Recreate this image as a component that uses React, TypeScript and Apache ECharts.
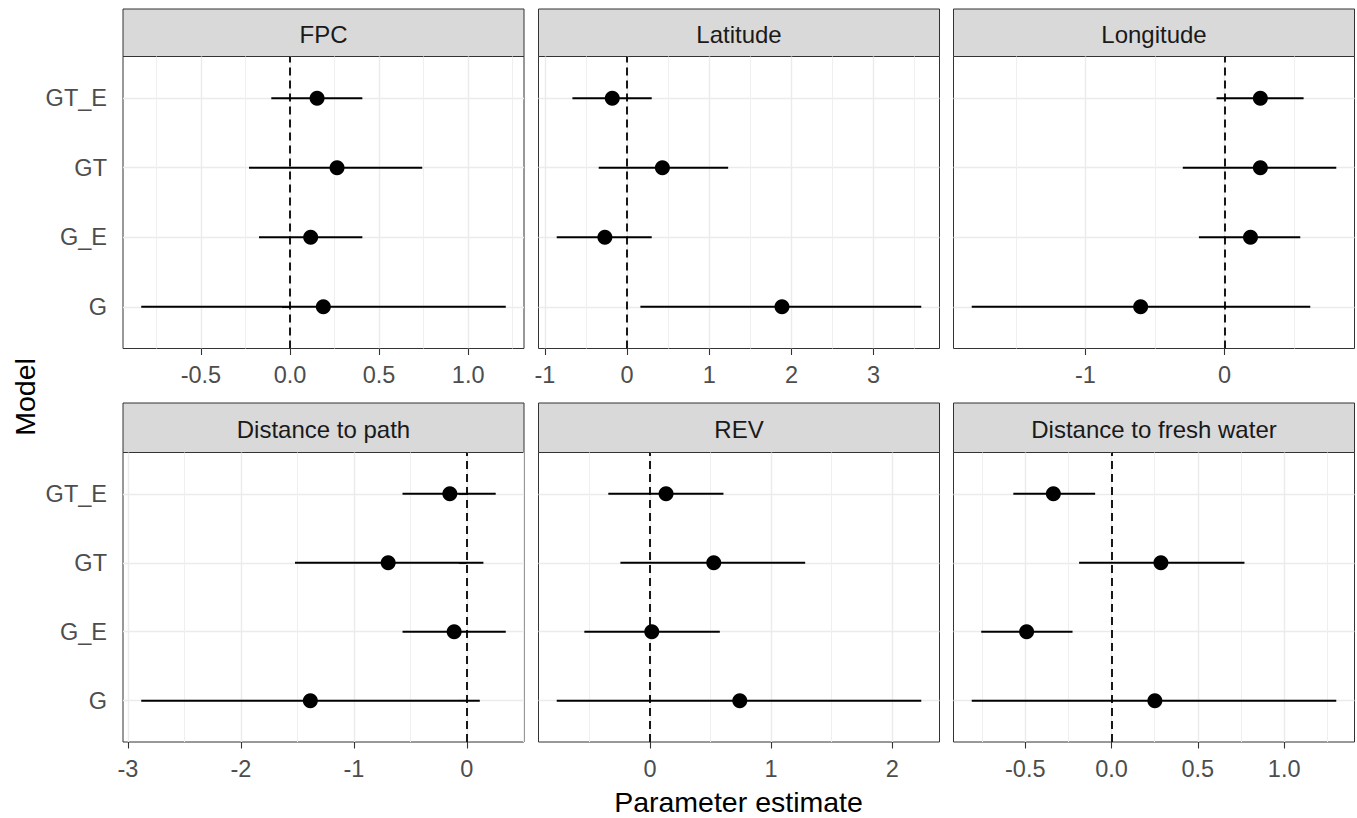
import React, { useEffect, useRef } from 'react';
import * as echarts from 'echarts';

// ---------------- data ----------------
const models = ['G', 'G_E', 'GT', 'GT_E']; // bottom -> top
const modelPos = [1, 2, 3, 4];

const panelTitles = ['FPC', 'Latitude', 'Longitude', 'Distance to path', 'REV', 'Distance to fresh water'];

// order of values: G, G_E, GT, GT_E
const fpcEst = [0.187, 0.116, 0.264, 0.152];
const fpcLo = [-0.835, -0.174, -0.23, -0.105];
const fpcHi = [1.211, 0.406, 0.742, 0.406];

const latEst = [1.885, -0.27, 0.43, -0.18];
const latLo = [0.162, -0.856, -0.345, -0.665];
const latHi = [3.58, 0.3, 1.23, 0.3];

const lonEst = [-0.603, 0.187, 0.258, 0.258];
const lonLo = [-1.818, -0.184, -0.3, -0.057];
const lonHi = [0.617, 0.545, 0.804, 0.569];

const pathEst = [-1.385, -0.112, -0.696, -0.15];
const pathLo = [-2.882, -0.569, -1.521, -0.569];
const pathHi = [0.115, 0.345, 0.147, 0.256];

const revEst = [0.741, 0.014, 0.526, 0.132];
const revLo = [-0.771, -0.543, -0.245, -0.345];
const revHi = [2.24, 0.576, 1.281, 0.606];

const waterEst = [0.251, -0.492, 0.286, -0.337];
const waterLo = [-0.81, -0.755, -0.188, -0.569];
const waterHi = [1.302, -0.226, 0.77, -0.095];

// tick values / labels / minor grid values
const fpcTicks = [-0.5, 0, 0.5, 1];
const fpcTickLabels = ['-0.5', '0.0', '0.5', '1.0'];
const fpcMinor = [-0.75, -0.25, 0.25, 0.75, 1.25];

const latTicks = [-1, 0, 1, 2, 3];
const latTickLabels = ['-1', '0', '1', '2', '3'];
const latMinor = [-0.5, 0.5, 1.5, 2.5, 3.5];

const lonTicks = [-1, 0];
const lonTickLabels = ['-1', '0'];
const lonMinor = [-1.5, -0.5, 0.5];

const pathTicks = [-3, -2, -1, 0];
const pathTickLabels = ['-3', '-2', '-1', '0'];
const pathMinor = [-2.5, -1.5, -0.5, 0.5];

const revTicks = [0, 1, 2];
const revTickLabels = ['0', '1', '2'];
const revMinor = [-0.5, 0.5, 1.5];

const waterTicks = [-0.5, 0, 0.5, 1];
const waterTickLabels = ['-0.5', '0.0', '0.5', '1.0'];
const waterMinor = [-0.75, -0.25, 0.25, 0.75, 1.25];

const xTitle = 'Parameter estimate';
const yTitle = 'Model';

const panels = [
  { est: fpcEst, lo: fpcLo, hi: fpcHi, ticks: fpcTicks, labels: fpcTickLabels, minor: fpcMinor },
  { est: latEst, lo: latLo, hi: latHi, ticks: latTicks, labels: latTickLabels, minor: latMinor },
  { est: lonEst, lo: lonLo, hi: lonHi, ticks: lonTicks, labels: lonTickLabels, minor: lonMinor },
  { est: pathEst, lo: pathLo, hi: pathHi, ticks: pathTicks, labels: pathTickLabels, minor: pathMinor },
  { est: revEst, lo: revLo, hi: revHi, ticks: revTicks, labels: revTickLabels, minor: revMinor },
  { est: waterEst, lo: waterLo, hi: waterHi, ticks: waterTicks, labels: waterTickLabels, minor: waterMinor },
];

// ---------------- layout ----------------
const FONT = "'Liberation Sans', Arial, Helvetica, sans-serif";
const colLeft = [123, 538.5, 953.5];
const panelW = 401;
const rows = [
  { stripTop: 9, plotTop: 56.5, plotBottom: 348.5, textY: 34.5 },
  { stripTop: 403, plotTop: 452.5, plotBottom: 742, textY: 429 },
];
const TICK_COLOR = '#333333';
const LABEL_COLOR = '#4D4D4D';
const GRID_MAJOR = '#EBEBEB';
const GRID_MINOR = '#EFEFEF';

function buildOption() {
  const grid: any[] = [];
  const xAxis: any[] = [];
  const yAxis: any[] = [];
  const series: any[] = [];
  const graphic: any[] = [];

  panels.forEach((p, i) => {
    const col = i % 3;
    const r = rows[Math.floor(i / 3)];
    const left = colLeft[col];
    const lo = Math.min(...p.lo);
    const hi = Math.max(...p.hi);
    const pad = 0.05 * (hi - lo);
    const min = lo - pad;
    const max = hi + pad;

    grid.push({
      left,
      top: r.plotTop,
      width: panelW,
      height: r.plotBottom - r.plotTop,
      show: true,
      backgroundColor: '#ffffff',
      borderColor: '#333333',
      borderWidth: 1,
    });

    xAxis.push({
      type: 'value',
      gridIndex: i,
      min,
      max,
      position: 'bottom',
      axisLine: { show: false },
      axisTick: { show: true, length: 6.5, lineStyle: { color: TICK_COLOR, width: 1.1 }, customValues: p.ticks },
      axisLabel: {
        show: true,
        customValues: p.ticks,
        formatter: (v: number) => {
          const k = p.ticks.findIndex((t) => Math.abs(t - v) < 1e-9);
          return k >= 0 ? p.labels[k] : '';
        },
        fontSize: 23.5,
        fontFamily: FONT,
        color: LABEL_COLOR,
        margin: 26.5,
        verticalAlign: 'middle',
      },
      splitLine: { show: true, lineStyle: { color: GRID_MAJOR, width: 1.4 } },
    });
    xAxis.push({
      type: 'value',
      gridIndex: i,
      min,
      max,
      position: 'top',
      axisLine: { show: false },
      axisTick: { show: false, customValues: p.minor },
      axisLabel: { show: false, customValues: p.minor },
      splitLine: { show: true, lineStyle: { color: GRID_MINOR, width: 1 } },
    });

    yAxis.push({
      type: 'value',
      gridIndex: i,
      min: 0.4,
      max: 4.6,
      axisLine: { show: false },
      axisTick: { show: col === 0, length: 8, lineStyle: { color: TICK_COLOR, width: 1.1 }, customValues: modelPos },
      axisLabel: {
        show: col === 0,
        customValues: modelPos,
        formatter: (v: number) => models[Math.round(v) - 1] || '',
        fontSize: 23.5,
        fontFamily: FONT,
        color: LABEL_COLOR,
        margin: 16,
      },
      splitLine: { show: true, lineStyle: { color: GRID_MAJOR, width: 1.4 } },
    });

    series.push({
      type: 'custom',
      xAxisIndex: 2 * i,
      yAxisIndex: i,
      silent: true,
      z: 2,
      encode: { x: [0, 1], y: 2 },
      data: p.lo.map((l, k) => [l, p.hi[k], modelPos[k]]),
      renderItem: (params: any, api: any) => {
        const a = api.coord([api.value(0), api.value(2)]);
        const b = api.coord([api.value(1), api.value(2)]);
        return {
          type: 'line',
          shape: { x1: a[0], y1: a[1], x2: b[0], y2: b[1] },
          style: { stroke: '#000000', lineWidth: 2 },
        };
      },
    });

    series.push({
      type: 'scatter',
      xAxisIndex: 2 * i,
      yAxisIndex: i,
      silent: true,
      z: 3,
      symbol: 'circle',
      symbolSize: 15,
      itemStyle: { color: '#000000', opacity: 1 },
      data: p.est.map((e, k) => [e, modelPos[k]]),
      markLine: {
        silent: true,
        z: 1,
        symbol: ['none', 'none'],
        label: { show: false },
        lineStyle: { color: '#000000', type: [8, 5], width: 1.8, opacity: 1 },
        data: [{ xAxis: 0 }],
      },
    });

    // facet strip
    graphic.push({
      type: 'rect',
      shape: { x: left, y: r.stripTop, width: panelW, height: r.plotTop - r.stripTop },
      style: { fill: '#D9D9D9', stroke: '#333333', lineWidth: 1 },
      silent: true,
    });
    graphic.push({
      type: 'text',
      x: left + panelW / 2,
      y: r.textY,
      silent: true,
      style: {
        text: panelTitles[i],
        fontSize: 24,
        fontFamily: FONT,
        fill: '#1A1A1A',
        align: 'center',
        verticalAlign: 'middle',
      },
    });
  });

  graphic.push({
    type: 'text',
    x: 738.5,
    y: 802,
    silent: true,
    style: { text: xTitle, fontSize: 28.5, fontFamily: FONT, fill: '#000000', align: 'center', verticalAlign: 'middle' },
  });
  graphic.push({
    type: 'text',
    x: 25,
    y: 397,
    rotation: Math.PI / 2,
    silent: true,
    style: { text: yTitle, fontSize: 28.5, fontFamily: FONT, fill: '#000000', align: 'center', verticalAlign: 'middle' },
  });

  return {
    animation: false,
    backgroundColor: '#ffffff',
    grid,
    xAxis,
    yAxis,
    series,
    graphic,
  };
}

export default function App() {
  const ref = useRef<HTMLDivElement>(null);
  useEffect(() => {
    document.body.style.margin = '0';
    if (!ref.current) return;
    const chart = echarts.init(ref.current, undefined, { renderer: 'svg' });
    chart.setOption(buildOption() as any);
    return () => {
      chart.dispose();
    };
  }, []);
  return <div ref={ref} style={{ width: 1357, height: 818, position: 'absolute', left: 0, top: 0 }} />;
}
